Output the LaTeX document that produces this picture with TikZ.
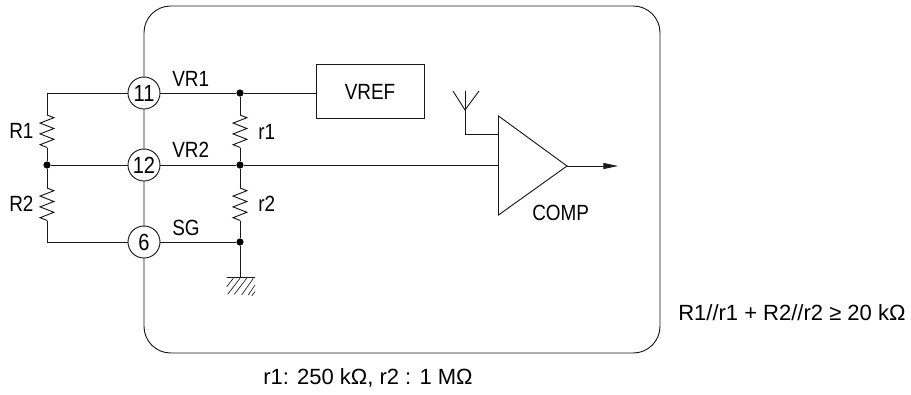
\documentclass[tikz,border=0pt]{standalone}
\usepackage{fontspec}
\setmainfont{Liberation Sans}[FakeStretch=0.86]
\newfontfamily\widefont{Liberation Sans}
\usetikzlibrary{arrows.meta, positioning, calc, decorations.pathmorphing}
\tikzset{
  wire/.style={line width=0.7pt, black!90},
  pin/.style={circle, draw=black!90, line width=0.7pt, fill=white, minimum size=24pt, inner sep=0pt, font=\fontsize{17.5}{19}\selectfont},
  dot/.style={circle, fill=black, minimum size=5.4pt, inner sep=0pt},
  lbl/.style={inner sep=0pt, font=\fontsize{16.5}{18}\selectfont},
  note/.style={inner sep=0pt, font=\widefont\fontsize{16.5}{18}\selectfont},
  res/.style={wire, decorate, decoration={zigzag, segment length=8.1pt, amplitude=5.2pt}},
}
\begin{document}
\begin{tikzpicture}[x=0.75pt, y=-0.75pt]
  \useasboundingbox (0,0) rectangle (911,394);

  % --- IC outline ---
  \draw[wire, rounded corners=20pt] (144,6) rectangle (660,353);

  % --- Pins on the left edge ---
  \node[pin] (p11) at (144,93) {11};
  \node[pin] (p12) at (144,165) {12};
  \node[pin] (p6) at (144,242) {6};

  % --- Junctions ---
  \node[dot] (jm) at (47,165) {};
  \node[dot] (j1) at (240,93) {};
  \node[dot] (j2) at (240,165) {};
  \node[dot] (j3) at (240,242) {};

  % --- External divider R1, R2 ---
  \coordinate (ct) at (47,93);
  \coordinate (cb) at (47,242);
  \coordinate (r1a) at (47,115);
  \coordinate (r1b) at (47,148);
  \coordinate (r2a) at (47,188);
  \coordinate (r2b) at (47,221);
  \draw[wire] (p11) -- (ct) -- (r1a);
  \draw[res] (r1a) -- (r1b);
  \draw[wire] (r1b) -- (jm) -- (r2a);
  \draw[res] (r2a) -- (r2b);
  \draw[wire] (r2b) -- (cb) -- (p6);
  \draw[wire] (jm) -- (p12);

  % --- Internal divider r1, r2 ---
  \coordinate (s1a) at (240,115);
  \coordinate (s1b) at (240,148);
  \coordinate (s2a) at (240,188);
  \coordinate (s2b) at (240,221);
  \draw[wire] (p11) -- (j1) -- (s1a);
  \draw[res] (s1a) -- (s1b);
  \draw[wire] (s1b) -- (j2) -- (s2a);
  \draw[res] (s2a) -- (s2b);
  \draw[wire] (s2b) -- (j3);
  \draw[wire] (p12) -- (j2);
  \draw[wire] (p6) -- (j3);

  % --- Ground ---
  \coordinate (gnd) at (240,277);
  \draw[wire] (j3) -- (gnd);
  \draw[wire] (227,277) -- (255,277);
  \foreach \xa/\ya/\xb/\yb in {233.3/278.3/226.7/286.7, 240/278.3/227.7/294.3, 246.7/278.3/234.3/294.3, 253.3/278.3/241.7/295, 255/285/248.3/295, 255/291.7/251.7/295.7}
    \draw[line width=0.5pt, black!90] (\xa,\ya) -- (\xb,\yb);

  % --- VREF ---
  \node[draw=black!90, line width=0.7pt, minimum width=81pt, minimum height=40pt, inner sep=0pt, font=\fontsize{16.5}{18}\selectfont] (vref) at (370,91.5) {VREF};
  \draw[wire] (j1) -- (vref.west |- j1);

  % --- Comparator ---
  \coordinate (ca) at (498.5,116);
  \coordinate (cc) at (498.5,215);
  \coordinate (co) at (567,166);
  \draw[wire, line join=miter] (ca) -- (co) -- (cc) -- cycle;
  \coordinate (cin) at (498.5,165);
  \draw[wire] (j2) -- (cin);
  \coordinate (cend) at (618,166);
  \draw[wire, -{Triangle[length=11pt,width=4.5pt]}] (co) -- (cend);

  % --- Antenna ---
  \coordinate (ant) at (465,110);
  \coordinate (ain) at (498.5,134);
  \draw[wire] (ain) -- (ant |- ain) -- (ant);
  \draw[wire] (465,91) -- (ant);
  \draw[wire] (453,91) -- (ant) -- (479,91);

  % --- Labels ---
  \node[lbl, anchor=west] (lvr1) at (172,79) {VR1};
  \node[lbl, anchor=west] (lvr2) at (172,150) {VR2};
  \node[lbl, anchor=west] (lsg) at (172,228) {SG};
  \node[lbl, anchor=west] (lr1) at (9,131) {R1};
  \node[lbl, anchor=west] (lr2) at (9,204) {R2};
  \node[lbl, anchor=west] (ls1) at (258,132) {r1};
  \node[lbl, anchor=west] (ls2) at (258,204) {r2};
  \node[lbl, anchor=west] (lcomp) at (532,213) {COMP};
  \node[note, anchor=west] (lsum) at (678,313) {R1//r1 + R2//r2 ≥ 20 kΩ};
  \node[note, anchor=west] (lval) at (263,378) {r1: 250 kΩ, r2 : 1 MΩ};
\end{tikzpicture}
\end{document}
